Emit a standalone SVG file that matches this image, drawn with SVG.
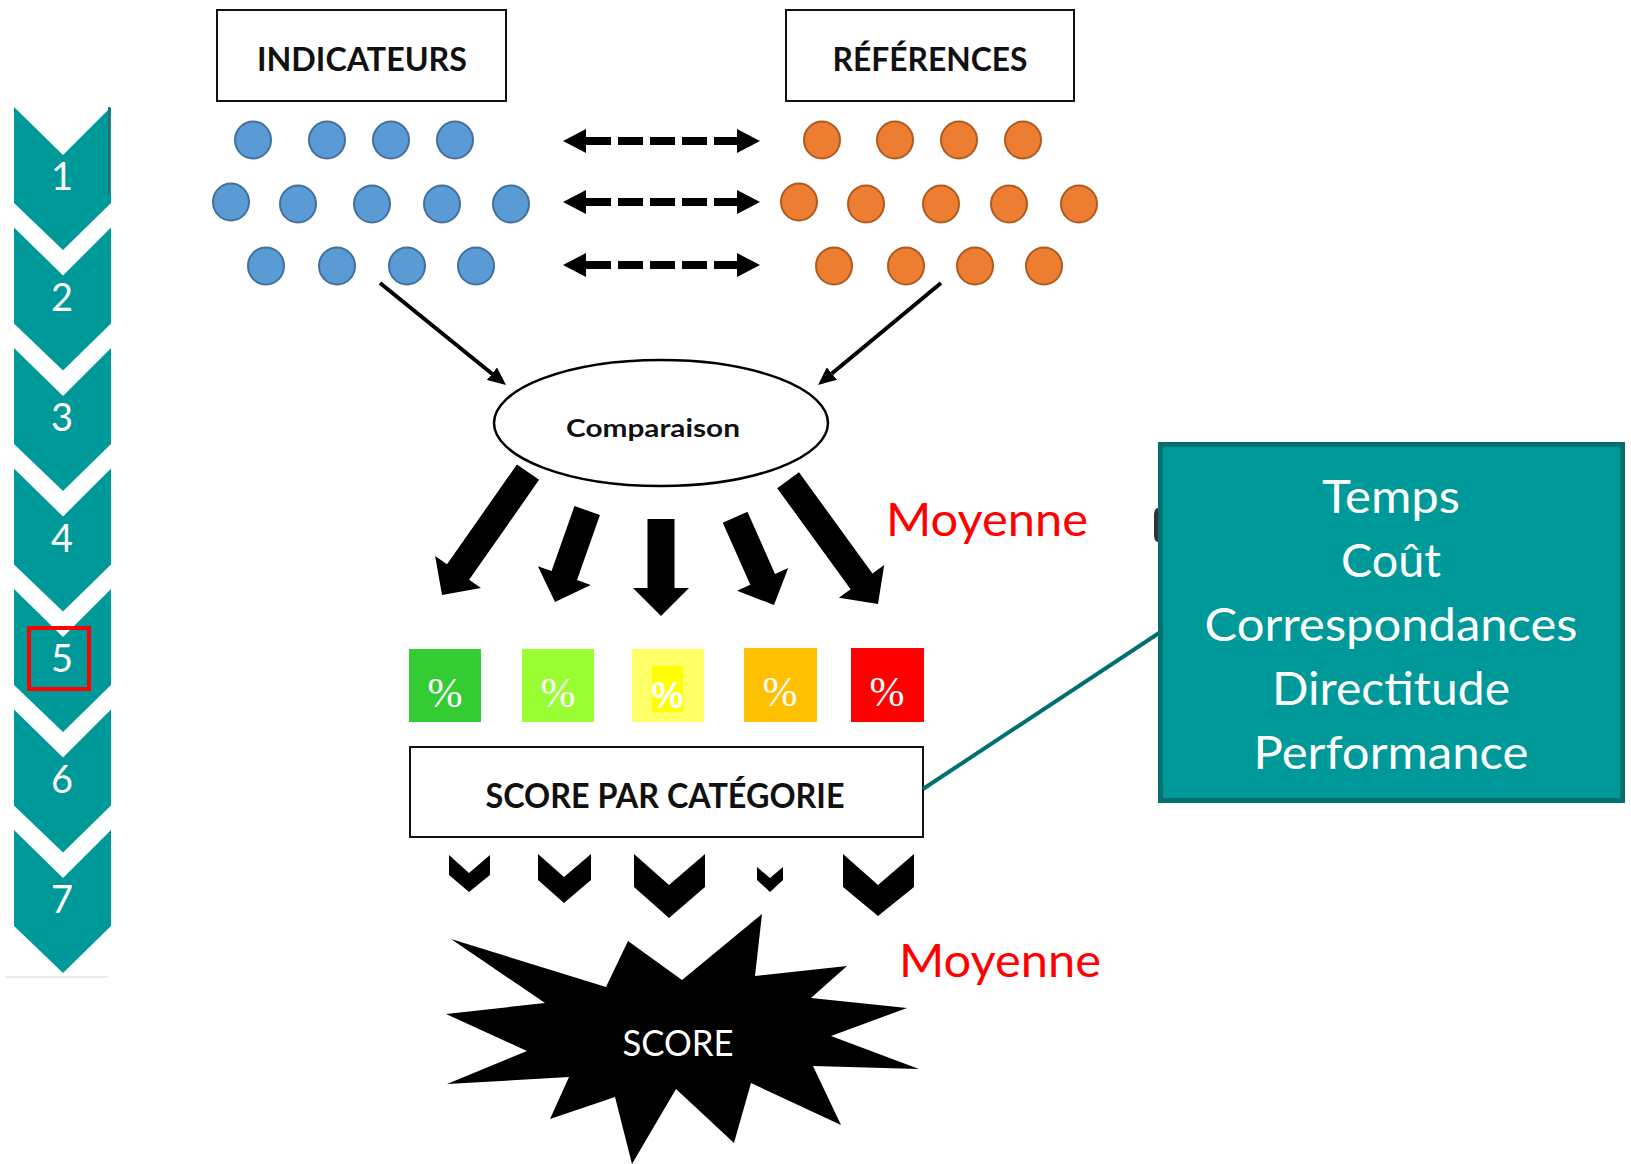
<svg xmlns="http://www.w3.org/2000/svg" xmlns:xlink="http://www.w3.org/1999/xlink" width="1631" height="1164" viewBox="0 0 1631 1164">
<style>
.chev{fill:#009999}
.num{font-family:Lato,"Open Sans",sans-serif;font-size:38px;fill:#fff;text-anchor:middle}
.bl{font-family:Lato,"Open Sans",sans-serif;font-weight:bold;fill:#111;text-anchor:middle}
.box{fill:#fff;stroke:#111;stroke-width:2}
.blue{fill:#5B9BD5;stroke:#41719C;stroke-width:2}
.orange{fill:#ED7D31;stroke:#AE5A21;stroke-width:2}
.moy{font-family:Lato,"Open Sans",sans-serif;font-size:47px;fill:#FF0000}
.pct{font-family:"Liberation Serif",serif;font-size:42px;fill:#fff;text-anchor:middle}
.tl{font-family:Lato,"Open Sans",sans-serif;font-size:46px;fill:#fff;text-anchor:middle}
.blk{fill:#000}
.dash{stroke:#000;stroke-width:8;stroke-dasharray:25 7;fill:none}
.thin{stroke:#000;stroke-width:4;fill:none}
</style>
<defs>
<path id="chevShape" d="M14,107 L63,155 L111,107 L111,203 L63,250 L14,203 Z"/>
<marker id="dh" viewBox="0 0 23 24" refX="0" refY="12" markerWidth="23" markerHeight="24" markerUnits="userSpaceOnUse" orient="auto-start-reverse">
<path d="M0,0 L23,12 L0,24 Z" fill="#000"/>
</marker>
<marker id="th" viewBox="0 0 18 16" refX="0" refY="8" markerWidth="18" markerHeight="16" markerUnits="userSpaceOnUse" orient="auto">
<path d="M0,0 L18,8 L0,16 Z" fill="#000"/>
</marker>
</defs>
<rect width="1631" height="1164" fill="#fff"/>

<!-- left steps -->
<g id="step1"><use xlink:href="#chevShape" class="chev"/><text class="num" x="62" y="190">1</text></g>
<line x1="109" y1="107" x2="109" y2="194" stroke="#3a6b6b" stroke-width="2"/>
<g id="step2" transform="translate(0,120.5)"><use xlink:href="#chevShape" class="chev"/><text class="num" x="62" y="190">2</text></g>
<g id="step3" transform="translate(0,241)"><use xlink:href="#chevShape" class="chev"/><text class="num" x="62" y="190">3</text></g>
<g id="step4" transform="translate(0,361.5)"><use xlink:href="#chevShape" class="chev"/><text class="num" x="62" y="190">4</text></g>
<g id="step5" transform="translate(0,482)"><use xlink:href="#chevShape" class="chev"/><text class="num" x="62" y="190">5</text></g>
<g id="step6" transform="translate(0,602.5)"><use xlink:href="#chevShape" class="chev"/><text class="num" x="62" y="190">6</text></g>
<g id="step7" transform="translate(0,723)"><use xlink:href="#chevShape" class="chev"/><text class="num" x="62" y="190">7</text></g>
<rect x="29" y="628" width="60" height="61" fill="none" stroke="#FF0000" stroke-width="4"/>
<line x1="5" y1="977" x2="108" y2="977" stroke="#e4e4e4" stroke-width="1.5"/>

<!-- header boxes -->
<g id="indicateurs"><rect class="box" x="217" y="10" width="289" height="91"/><text class="bl" x="362" y="71" font-size="32" textLength="210" lengthAdjust="spacingAndGlyphs">INDICATEURS</text></g>
<g id="references"><rect class="box" x="786" y="10" width="288" height="91"/><text class="bl" x="930" y="71" font-size="32" textLength="195" lengthAdjust="spacingAndGlyphs">RÉFÉRENCES</text></g>

<!-- indicator dots -->
<g id="blueDots">
<ellipse class="blue" cx="253" cy="140" rx="18" ry="18.5"/><ellipse class="blue" cx="327" cy="140" rx="18" ry="18.5"/><ellipse class="blue" cx="391" cy="140" rx="18" ry="18.5"/><ellipse class="blue" cx="455" cy="140" rx="18" ry="18.5"/>
<ellipse class="blue" cx="231" cy="202" rx="18" ry="18.5"/><ellipse class="blue" cx="298" cy="204" rx="18" ry="18.5"/><ellipse class="blue" cx="372" cy="204" rx="18" ry="18.5"/><ellipse class="blue" cx="442" cy="204" rx="18" ry="18.5"/><ellipse class="blue" cx="511" cy="204" rx="18" ry="18.5"/>
<ellipse class="blue" cx="266" cy="266" rx="18" ry="18.5"/><ellipse class="blue" cx="337" cy="266" rx="18" ry="18.5"/><ellipse class="blue" cx="407" cy="266" rx="18" ry="18.5"/><ellipse class="blue" cx="476" cy="266" rx="18" ry="18.5"/>
</g>
<g id="orangeDots">
<ellipse class="orange" cx="822" cy="140" rx="18" ry="18.5"/><ellipse class="orange" cx="895" cy="140" rx="18" ry="18.5"/><ellipse class="orange" cx="959" cy="140" rx="18" ry="18.5"/><ellipse class="orange" cx="1023" cy="140" rx="18" ry="18.5"/>
<ellipse class="orange" cx="799" cy="202" rx="18" ry="18.5"/><ellipse class="orange" cx="866" cy="204" rx="18" ry="18.5"/><ellipse class="orange" cx="941" cy="204" rx="18" ry="18.5"/><ellipse class="orange" cx="1009" cy="204" rx="18" ry="18.5"/><ellipse class="orange" cx="1079" cy="204" rx="18" ry="18.5"/>
<ellipse class="orange" cx="834" cy="266" rx="18" ry="18.5"/><ellipse class="orange" cx="906" cy="266" rx="18" ry="18.5"/><ellipse class="orange" cx="975" cy="266" rx="18" ry="18.5"/><ellipse class="orange" cx="1044" cy="266" rx="18" ry="18.5"/>
</g>

<!-- comparison -->
<g id="comparaison"><ellipse cx="661" cy="423" rx="167" ry="63" fill="#fff" stroke="#000" stroke-width="2.5"/><text class="bl" x="653" y="437" font-size="24" textLength="174" lengthAdjust="spacingAndGlyphs">Comparaison</text></g>

<!-- percentage boxes -->
<g id="pct1"><rect x="409" y="649" width="72" height="73" fill="#33CC33"/><text class="pct" x="445" y="707">%</text></g>
<g id="pct2"><rect x="522" y="649" width="72" height="73" fill="#99FF33"/><text class="pct" x="558" y="707">%</text></g>
<g id="pct3"><rect x="632" y="649" width="72" height="73" fill="#FFFF66"/><rect x="652" y="666" width="31" height="46" fill="#FFFF00"/><text x="667.5" y="708" font-family="Liberation Sans,Arial,sans-serif" font-weight="bold" font-size="36" fill="#fff" text-anchor="middle">%</text></g>
<g id="pct4"><rect x="744" y="648" width="73" height="74" fill="#FFC000"/><text class="pct" x="780" y="706">%</text></g>
<g id="pct5"><rect x="851" y="648" width="73" height="74" fill="#FF0000"/><text class="pct" x="887" y="706">%</text></g>

<g id="scoreCat"><rect class="box" x="410" y="747" width="513" height="90"/><text class="bl" x="665" y="808" font-size="35" textLength="359" lengthAdjust="spacingAndGlyphs">SCORE PAR CATÉGORIE</text></g>

<g id="categories"><rect x="1160.5" y="444.5" width="462" height="356" fill="#009999" stroke="#007070" stroke-width="5"/>
<text class="tl" x="1391" y="513" textLength="138" lengthAdjust="spacingAndGlyphs">Temps</text>
<text class="tl" x="1391" y="577" textLength="100" lengthAdjust="spacingAndGlyphs">Coût</text>
<text class="tl" x="1391" y="641" textLength="373" lengthAdjust="spacingAndGlyphs">Correspondances</text>
<text class="tl" x="1391" y="705" textLength="238" lengthAdjust="spacingAndGlyphs">Directitude</text>
<text class="tl" x="1391" y="769" textLength="275" lengthAdjust="spacingAndGlyphs">Performance</text>
</g>
<path d="M1158,508 Q1154,508 1154,516 L1154,535 Q1154,542 1158,542 Z" fill="#333"/>

<g id="score"><polygon class="blk" points="762,914 755,976 847,966 811,998 907,1008 831,1036 919,1069 813,1066 841,1125 751,1083 734,1143 676,1089 632,1164 615,1097 550,1119 569,1077 447,1084 527,1051 446,1014 545,1003 451,939 606,987 628,941 682,980"/>
<text x="678" y="1056" font-family="Lato,'Open Sans',sans-serif" font-size="37" fill="#fff" text-anchor="middle" textLength="111" lengthAdjust="spacingAndGlyphs">SCORE</text></g>

<text class="moy" x="886" y="536" textLength="202" lengthAdjust="spacingAndGlyphs">Moyenne</text>
<text class="moy" x="899" y="977" textLength="202" lengthAdjust="spacingAndGlyphs">Moyenne</text>

<!-- connectors -->
<g id="connectors">
<line class="dash" x1="586" y1="141" x2="737" y2="141" marker-start="url(#dh)" marker-end="url(#dh)"/>
<line class="dash" x1="586" y1="202" x2="737" y2="202" marker-start="url(#dh)" marker-end="url(#dh)"/>
<line class="dash" x1="586" y1="265" x2="737" y2="265" marker-start="url(#dh)" marker-end="url(#dh)"/>
<line class="thin" x1="380" y1="283" x2="492" y2="373.7" marker-end="url(#th)"/>
<line class="thin" x1="941" y1="283" x2="831.9" y2="373.5" marker-end="url(#th)"/>
<polygon class="blk" transform="translate(442,595) rotate(35)" points="-13.5,-150 13.5,-150 13.5,-28 28,-28 0,0 -28,-28 -13.5,-28"/>
<polygon class="blk" transform="translate(555,602) rotate(19.4)" points="-13.5,-97 13.5,-97 13.5,-28 28,-28 0,0 -28,-28 -13.5,-28"/>
<polygon class="blk" transform="translate(661,616)" points="-13.5,-97 13.5,-97 13.5,-28 28,-28 0,0 -28,-28 -13.5,-28"/>
<polygon class="blk" transform="translate(774,605) rotate(-23.9)" points="-13.5,-96 13.5,-96 13.5,-28 28,-28 0,0 -28,-28 -13.5,-28"/>
<polygon class="blk" transform="translate(878,604) rotate(-36)" points="-13.5,-153 13.5,-153 13.5,-28 28,-28 0,0 -28,-28 -13.5,-28"/>
<polygon class="blk" points="449,855 469,873 490,855 490,875 469,892 449,875"/>
<polygon class="blk" points="538,854 564,877 591,854 591,880 564,903 538,880"/>
<polygon class="blk" points="634,854 669,885 705,854 705,887 669,918 634,887"/>
<polygon class="blk" points="757,867 770,878 783,867 783,880 770,892 757,880"/>
<polygon class="blk" points="843,854 878,885 914,854 914,887 878,916 843,887"/>
<line x1="923" y1="789" x2="1159" y2="633" stroke="#007070" stroke-width="4"/>
</g>
</svg>
